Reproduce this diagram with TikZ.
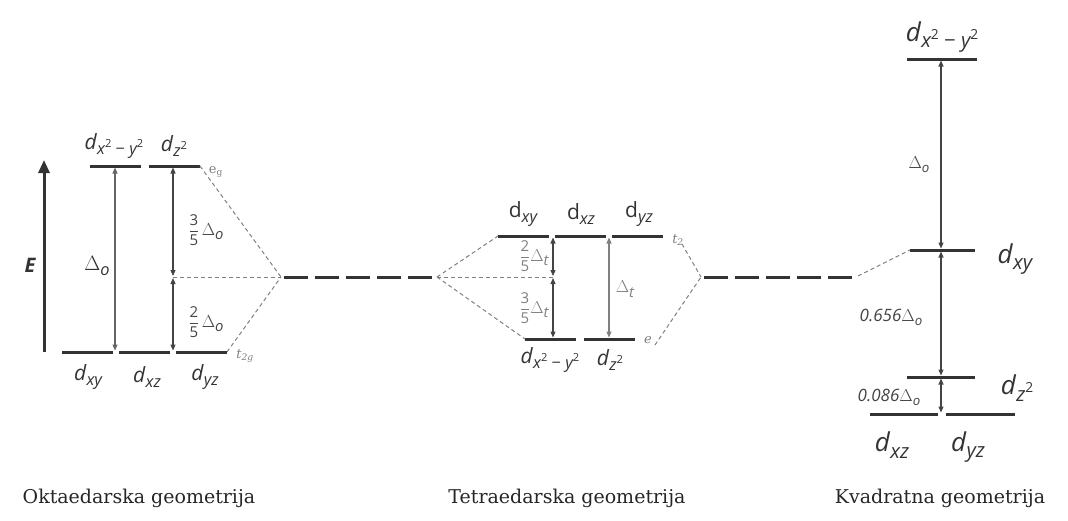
\documentclass[tikz,border=0pt]{standalone}
\usepackage{fontspec}
\usepackage{amsmath}
\setmainfont{DejaVu Serif}
\newfontfamily\lab{Open Sans}
\usetikzlibrary{arrows.meta}
\definecolor{lvlc}{HTML}{333333}
\definecolor{arrc}{HTML}{444444}
\definecolor{dashc}{HTML}{808080}
\definecolor{grayt}{HTML}{808080}
\newcommand{\sbs}[1]{\raisebox{-0.45ex}{\scalebox{0.78}{\itshape #1}}}
\newcommand{\spt}[1]{\raisebox{0.75ex}{\scalebox{0.68}{\upshape #1}}}
\newcommand{\dl}[1]{\textit{d}\sbs{#1}}
\newcommand{\du}[1]{d\sbs{#1}}
\newcommand{\sqx}{x\spt{2} {\upshape −} y\spt{2}}
\newcommand{\zsq}{z\spt{2}}
\newcommand{\frc}[2]{$\dfrac{\text{#1}}{\text{#2}}$}
\newcommand{\Dl}[1]{$\Delta$\sbs{#1}}
\begin{document}
\begin{tikzpicture}[x=1pt,y=-1pt,
  lvl/.style={line width=3pt,draw=lvlc},
  bary/.style={line width=3pt,draw=lvlc,dash pattern=on 24pt off 7pt},
  corr/.style={draw=dashc,line width=1pt,dash pattern=on 4pt off 3pt},
  dbl/.style={draw=arrc,line width=1.1pt,{Triangle[width=5pt,length=6pt]}-{Triangle[width=5pt,length=6pt]}},
  dblg/.style={dbl,draw=grayt},
  lab/.style={font=\lab\fontsize{21}{23}\selectfont,text=lvlc,inner sep=0pt},
  labb/.style={font=\lab\fontsize{26}{28}\selectfont,text=lvlc,inner sep=0pt},
  small/.style={font=\lab\fontsize{17}{19}\selectfont,text=arrc,inner sep=0pt},
  fracl/.style={font=\lab\fontsize{15}{17}\selectfont,text=arrc,inner sep=0pt},
  tiny/.style={font=\fontsize{13}{15}\selectfont\itshape,text=grayt,inner sep=0pt},
  captxt/.style={font=\fontsize{19}{22}\selectfont,text=black!85,inner sep=0pt,anchor=base}]
\useasboundingbox (0,0) rectangle (1068,520);

% ---------- octahedral ----------
\coordinate (Ebot) at (44,352);
\coordinate (Etop) at (44,160);
\draw[line width=3pt,draw=lvlc,-{Triangle[width=11pt,length=13pt]}] (Ebot) -- (Etop);
\node[font=\lab\bfseries\itshape\fontsize{20}{22}\selectfont,text=lvlc] (E) at (30,265) {E};

\coordinate (oa1) at (90,166); \coordinate (oa2) at (141,166);
\coordinate (ob1) at (149,166); \coordinate (ob2) at (200,166);
\draw[lvl] (oa1) -- (oa2);
\draw[lvl] (ob1) -- (ob2);
\coordinate (oc1) at (62,352); \coordinate (oc2) at (113,352);
\coordinate (od1) at (119,352); \coordinate (od2) at (170,352);
\coordinate (oe1) at (176,352); \coordinate (oe2) at (227,352);
\draw[lvl] (oc1) -- (oc2);
\draw[lvl] (od1) -- (od2);
\draw[lvl] (oe1) -- (oe2);

\node[lab] (oLa) at (114,146) {\dl{\sqx}};
\node[lab] (oLb) at (174,146) {\dl{\zsq}};
\node[lab] (oLc) at (88,377) {\dl{xy}};
\node[lab] (oLd) at (147,377) {\dl{xz}};
\node[lab] (oLe) at (205,377) {\dl{yz}};
\node[tiny,font=\fontsize{13}{15}\selectfont] (oeg) at (216,172) {e\textsubscript{g}};
\node[tiny] (ot2g) at (245,356) {t\textsubscript{2g}};

\coordinate (oDt) at (115,167.5); \coordinate (oDb) at (115,350.5);
\draw[dbl,draw=grayt!80!black] (oDt) -- (oDb);
\node[lab] (oDl) at (97,266) {\Dl{o}};

\coordinate (oB) at (281,277);
\coordinate (oM) at (173,277);
\coordinate (oMu) at (173,276); \coordinate (oMd) at (173,278);
\coordinate (oMt) at (173,167.5); \coordinate (oMb) at (173,350.5);
\draw[dbl] (oMt) -- (oMu);
\draw[dbl] (oMd) -- (oMb);
\draw[corr] (oM) -- (oB);
\draw[corr] (ob2) -- (oB);
\draw[corr] (oe2) -- (oB);
\node[fracl] (o35) at (206,230) {\frc{3}{5}\,{\fontsize{19}{21}\selectfont\Dl{o}}};
\node[fracl] (o25) at (206,322) {\frc{2}{5}\,{\fontsize{19}{21}\selectfont\Dl{o}}};

\coordinate (bar1a) at (284,277); \coordinate (bar1b) at (436,277);
\draw[bary] (bar1a) -- (bar1b);

% ---------- tetrahedral ----------
\coordinate (tB) at (437,277);
\coordinate (ta1) at (498,236); \coordinate (ta2) at (549,236);
\coordinate (tb1) at (555,236); \coordinate (tb2) at (606,236);
\coordinate (tc1) at (612,236); \coordinate (tc2) at (663,236);
\draw[lvl] (ta1) -- (ta2);
\draw[lvl] (tb1) -- (tb2);
\draw[lvl] (tc1) -- (tc2);
\coordinate (td1) at (525,339); \coordinate (td2) at (576,339);
\coordinate (te1) at (584,339); \coordinate (te2) at (635,339);
\draw[lvl] (td1) -- (td2);
\draw[lvl] (te1) -- (te2);

\node[lab] (tLa) at (523,214) {\du{xy}};
\node[lab] (tLb) at (581,214) {\du{xz}};
\node[lab] (tLc) at (639,214) {\du{yz}};
\node[lab] (tLd) at (550,360) {\dl{\sqx}};
\node[lab] (tLe) at (610,360) {\dl{\zsq}};
\node[tiny] (tt2) at (678,240) {t\textsubscript{2}};
\node[tiny] (te) at (648,340) {e};

\coordinate (tM) at (553,277);
\coordinate (tMu) at (553,276); \coordinate (tMd) at (553,278);
\coordinate (tMt) at (553,237.5); \coordinate (tMb) at (553,337.5);
\draw[corr] (tB) -- (tM);
\draw[corr] (tB) -- (ta1);
\draw[corr] (tB) -- (td1);
\draw[dbl] (tMt) -- (tMu);
\draw[dbl] (tMd) -- (tMb);
\node[fracl,text=grayt] (t25) at (534,256) {\frc{2}{5}{\fontsize{19}{21}\selectfont\Dl{t}}};
\node[fracl,text=grayt] (t35) at (534,308) {\frc{3}{5}{\fontsize{19}{21}\selectfont\Dl{t}}};
\coordinate (tDt) at (609,237.5); \coordinate (tDb) at (609,337.5);
\draw[dblg] (tDt) -- (tDb);
\node[small,text=grayt,font=\lab\fontsize{19}{21}\selectfont] (tDl) at (625,289) {\Dl{t}};

\coordinate (tR) at (701,277);
\coordinate (tRu) at (682,244); \coordinate (tRd) at (655,345);
\draw[corr] (tRu) -- (tR);
\draw[corr] (tRd) -- (tR);
\coordinate (bar2a) at (704,277); \coordinate (bar2b) at (856,277);
\draw[bary] (bar2a) -- (bar2b);

% ---------- square planar ----------
\coordinate (sa1) at (907,59); \coordinate (sa2) at (977,59);
\coordinate (sb1) at (910,250); \coordinate (sb2) at (975,250);
\coordinate (sc1) at (907,377); \coordinate (sc2) at (975,377);
\coordinate (sd1) at (870,414); \coordinate (sd2) at (938,414);
\coordinate (se1) at (946,414); \coordinate (se2) at (1015,414);
\draw[lvl] (sa1) -- (sa2);
\draw[lvl] (sb1) -- (sb2);
\draw[lvl] (sc1) -- (sc2);
\draw[lvl] (sd1) -- (sd2);
\draw[lvl] (se1) -- (se2);
\coordinate (sdash) at (858,276);
\draw[corr] (sdash) -- (sb1);

\node[labb] (sLa) at (942,37) {\dl{\sqx}};
\node[labb] (sLb) at (1015,259) {\dl{xy}};
\node[labb] (sLc) at (1017,388) {\dl{\zsq}};
\node[labb] (sLd) at (892,445) {\dl{xz}};
\node[labb] (sLe) at (968,447) {\dl{yz}};

\coordinate (sA1) at (941,60.5); \coordinate (sA2) at (941,248.5);
\coordinate (sA3) at (941,251.5); \coordinate (sA4) at (941,375.5);
\coordinate (sA5) at (941,378.5); \coordinate (sA6) at (941,412.5);
\draw[dbl] (sA1) -- (sA2);
\draw[dbl] (sA3) -- (sA4);
\draw[dbl] (sA5) -- (sA6);
\node[small] (sD1) at (919,165) {\Dl{o}};
\node[small,font=\lab\itshape\fontsize{17}{19}\selectfont] (sD2) at (891,317) {0.656\Dl{o}};
\node[small,font=\lab\itshape\fontsize{17}{19}\selectfont] (sD3) at (889,397) {0.086\Dl{o}};

% ---------- captions ----------
\node[captxt] (c1) at (139,503) {Oktaedarska geometrija};
\node[captxt] (c2) at (567,503) {Tetraedarska geometrija};
\node[captxt] (c3) at (940,503) {Kvadratna geometrija};
\end{tikzpicture}
\end{document}
